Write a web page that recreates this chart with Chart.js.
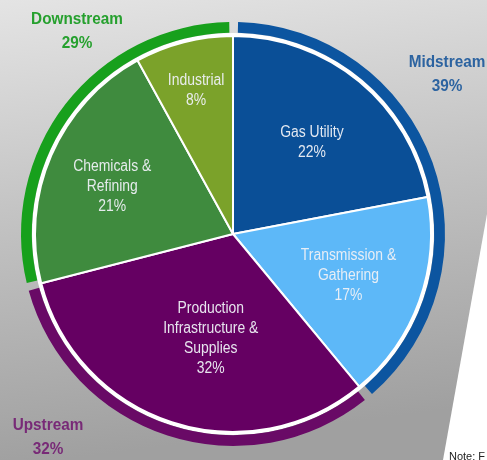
<!DOCTYPE html>
<html>
<head>
<meta charset="utf-8">
<title>Market segments</title>
<script src="https://cdn.jsdelivr.net/npm/chart.js@4/dist/chart.umd.min.js"></script>
<style>
  html, body { margin: 0; padding: 0; background: #ffffff; }
  #wrap { width: 487px; height: 460px; position: relative; }
</style>
</head>
<body>
<div id="wrap"><canvas id="pie" width="487" height="460"></canvas></div>
<script>
// Inner pie: end-market segments, clockwise from 12 o'clock
const segments = ['Gas Utility', 'Transmission & Gathering', 'Production Infrastructure & Supplies', 'Chemicals & Refining', 'Industrial'];
const segmentShares = [22, 17, 32, 21, 8];
const segmentLabelLines = [
  ['Gas Utility'],
  ['Transmission &', 'Gathering'],
  ['Production', 'Infrastructure &', 'Supplies'],
  ['Chemicals &', 'Refining'],
  ['Industrial']
];
const segmentColors = ['#0a4f97', '#5db8f8', '#650062', '#3f8b3e', '#7ba22a'];

// Outer ring: value-chain groups
const streams = ['Midstream', 'Upstream', 'Downstream'];
const streamShares = [39, 32, 29];
const streamColors = ['#0c55a0', '#690a66', '#17a01c'];
const streamTextColors = ['#2c63a0', '#782a77', '#26a02e'];

// Label placement for the slices (fraction of pie radius, angle nudge in degrees)
const sliceLabelRadius = [0.61, 0.62, 0.54, 0.655, 0.75];
const sliceLabelNudge = [1.2, 0, -6, -2, 0];
// Group labels sit in the corners around the ring
const streamLabelPos = [[447, 62], [48, 425], [77, 19]];

const backdrop = {
  id: 'backdrop',
  beforeDraw(chart) {
    const ctx = chart.ctx;
    const w = chart.width, h = chart.height;
    ctx.save();
    const g = ctx.createLinearGradient(0, 0, 60, h);
    g.addColorStop(0, '#e4e4e4');
    g.addColorStop(0.45, '#c4c4c4');
    g.addColorStop(1, '#a0a0a0');
    ctx.fillStyle = g;
    ctx.fillRect(0, 0, w, h);
    // white panel cut in along the lower right
    ctx.fillStyle = '#ffffff';
    ctx.beginPath();
    ctx.moveTo(w, 214);
    ctx.lineTo(443, h);
    ctx.lineTo(w, h);
    ctx.closePath();
    ctx.fill();
    ctx.fillStyle = '#222222';
    ctx.font = '11px "Liberation Sans", Arial, sans-serif';
    ctx.textBaseline = 'alphabetic';
    ctx.textAlign = 'left';
    ctx.fillText('Note: F', 449, 460);
    ctx.restore();
  }
};

function drawLines(ctx, lines, x, y, lineH, scaleX) {
  const top = y - (lines.length - 1) * lineH / 2;
  lines.forEach((t, i) => {
    ctx.save();
    ctx.translate(x, top + i * lineH);
    ctx.scale(scaleX, 1);
    ctx.fillText(t, 0, 0);
    ctx.restore();
  });
}

const labels = {
  id: 'sliceLabels',
  afterDatasetsDraw(chart) {
    const ctx = chart.ctx;
    ctx.save();
    ctx.textAlign = 'center';
    ctx.textBaseline = 'middle';

    // slice labels
    const meta = chart.getDatasetMeta(2);
    ctx.font = '16px "Liberation Sans", Arial, sans-serif';
    ctx.fillStyle = 'rgba(238,240,246,0.95)';
    meta.data.forEach((arc, i) => {
      const p = arc.getProps(['x', 'y', 'startAngle', 'endAngle', 'outerRadius'], true);
      const mid = (p.startAngle + p.endAngle) / 2 + sliceLabelNudge[i] * Math.PI / 180;
      const r = p.outerRadius * sliceLabelRadius[i];
      const cx = p.x + Math.cos(mid) * r;
      const cy = p.y + Math.sin(mid) * r;
      const lines = segmentLabelLines[i].concat([segmentShares[i] + '%']);
      drawLines(ctx, lines, cx, cy, 20, 0.87);
    });

    // group labels
    ctx.font = 'bold 17px "Liberation Sans", Arial, sans-serif';
    streams.forEach((name, i) => {
      ctx.fillStyle = streamTextColors[i];
      const [x, y] = streamLabelPos[i];
      drawLines(ctx, [name, streamShares[i] + '%'], x, y + 12, 24, 0.9);
    });
    ctx.restore();
  }
};

new Chart(document.getElementById('pie'), {
  type: 'doughnut',
  data: {
    labels: segments,
    datasets: [
      {
        label: 'Value chain',
        data: streamShares,
        backgroundColor: streamColors,
        borderWidth: 0,
        spacing: 8,
        weight: 11
      },
      {
        label: 'gap',
        data: [1],
        backgroundColor: ['#ffffff'],
        borderWidth: 0,
        weight: 3
      },
      {
        label: 'End market',
        data: segmentShares,
        backgroundColor: segmentColors,
        borderColor: '#ffffff',
        borderWidth: 2,
        weight: 198
      }
    ]
  },
  options: {
    responsive: false,
    animation: false,
    cutout: 0,
    layout: { padding: { left: 21, right: 42, top: 22, bottom: 14 } },
    plugins: {
      legend: { display: false },
      tooltip: { enabled: false }
    }
  },
  plugins: [backdrop, labels]
});
</script>
</body>
</html>
